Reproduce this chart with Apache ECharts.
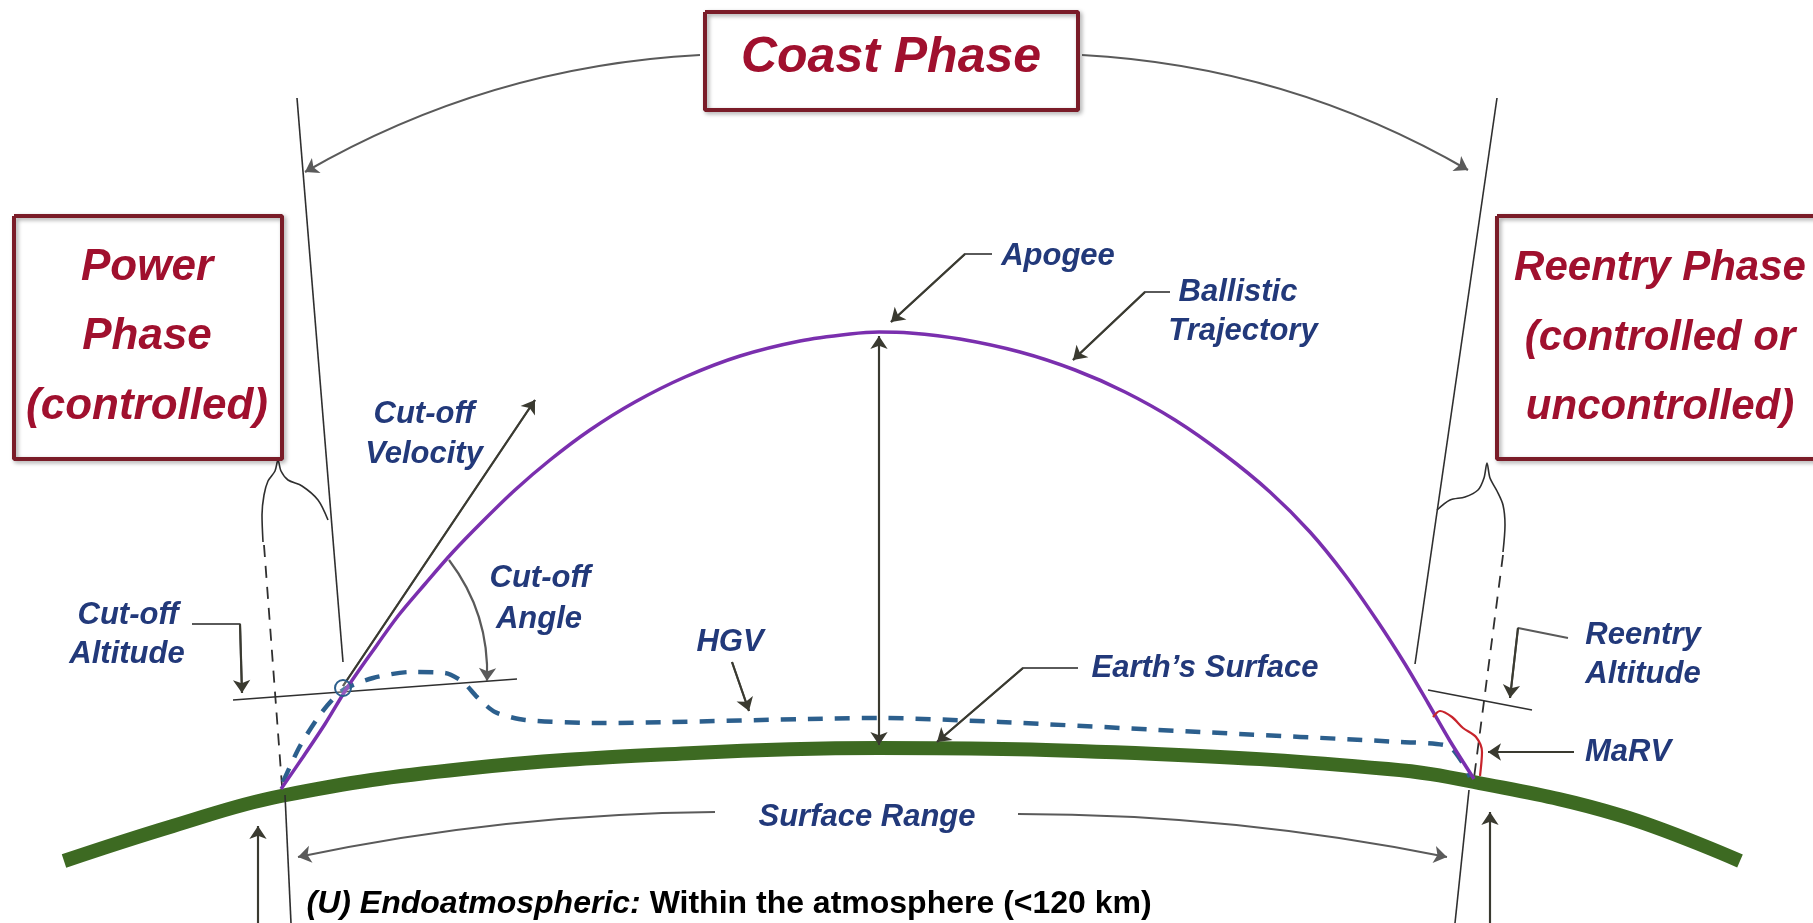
<!DOCTYPE html>
<html>
<head>
<meta charset="utf-8">
<script src="https://cdn.jsdelivr.net/npm/echarts@6/dist/echarts.min.js"></script>
<style>html,body{margin:0;padding:0;background:#fff}#c{width:1813px;height:923px}</style>
</head>
<body>
<div id="c"></div>
<script>
// ---- diagram geometry (in picture units: x right, y down) ----
const ballisticTrajectory = [[281,789],[303,757],[325,724],[347,688],[372,652],[398,616],[425,584],[452,553],[482,522],[515,490],[550,460],[590,430],[635,402],[685,377],[740,356],[800,341],[850,334],[879,332],[910,333],[960,339],[1020,352],[1075,370],[1125,392],[1175,420],[1225,455],[1270,492],[1310,532],[1345,575],[1378,622],[1405,664],[1428,703],[1450,741],[1474,779]];
const earthSurface = [[64,861],[173,826],[281,796],[463,769],[694,753],[879,748],[1156,754],[1388,769],[1474,782],[1619,815],[1740,861]];
const hgvPath = [[283,782],[300,746],[322,712],[343,690],[373,678],[410,672],[445,673],[463,682],[477,697],[495,712],[525,720],[600,723],[879,718],[1000,722],[1200,732],[1400,742],[1448,746],[1462,762],[1470,777]];
const marvPath = [[1433,717],[1440,711],[1452,717],[1463,728],[1476,737],[1482,752],[1480,776]];

const coastBox = [[705,12],[1078,12],[1078,110],[705,110],[705,12]];
const powerBox = [[14,216],[282,216],[282,459],[14,459],[14,216]];
const reentryBox = [[1497,216],[1830,216],[1830,459],[1497,459],[1497,216]];

const thinLines = [
  [[297,98],[343,662]],                 // left phase boundary
  [[1497,98],[1415,664]],               // right phase boundary
  [[233,700],[517,679]],                // cut-off altitude level
  [[1428,690],[1532,710]],              // reentry altitude level
  [[285,795],[291,923]],                // left range boundary (bottom)
  [[1469,790],[1455,923]]               // right range boundary (bottom)
];
const braces = [
  [[328,520],[318,500],[302,486],[288,480],[281,471],[278,460],[275,471],[268,481],[264,495],[262,515],[263,542]],
  [[1437,510],[1450,500],[1465,497],[1478,490],[1484,478],[1487,463],[1490,478],[1497,491],[1503,505],[1505,525],[1503,552]]
];
const dashedGuides = [
  [[264,545],[282,786]],
  [[1503,555],[1474,778]]
];
// curved arrows: start, end, bend
const curvedArrows = [
  [[700,55],[305,172],-0.12],      // coast arc left
  [[1082,55],[1468,170],0.12],     // coast arc right
  [[715,812],[298,857],-0.05],     // surface range left
  [[1018,814],[1447,857],0.05],    // surface range right
  [[449,560],[487,681],0.18]       // cut-off angle
];
const leaderArrows = [
  [[343,686],[535,400]],                    // cut-off velocity
  [[992,254],[965,254],[891,322]],          // apogee
  [[1170,292],[1145,292],[1073,360]],       // ballistic trajectory
  [[192,624],[240,624],[242,693]],          // cut-off altitude
  [[732,662],[749,711]],                    // HGV
  [[1078,668],[1023,668],[937,742]],        // earth's surface
  [[1568,638],[1518,628],[1510,698]],       // reentry altitude
  [[1574,752],[1488,752]],                  // MaRV
  [[258,923],[258,826]],                    // bottom left up arrow
  [[1490,923],[1490,812]],                  // bottom right up arrow
  [[879,600],[879,336]],                    // apogee height (up)
  [[879,600],[879,745]]                     // apogee height (down)
];
const cutoffPoint = [[343,688]];

const phaseTitles = [
  ['Coast Phase', 891, 58, 50],
  ['Power', 147, 268, 44], ['Phase', 147, 337, 44], ['(controlled)', 147, 407, 44],
  ['Reentry Phase', 1660, 268, 42], ['(controlled or', 1660, 338, 42], ['uncontrolled)', 1660, 407, 42]
];
const annotationLabels = [
  ['Apogee', 1058, 256], ['Ballistic', 1238, 292], ['Trajectory', 1243, 331],
  ['Cut-off', 424, 414], ['Velocity', 424, 454],
  ['Cut-off', 540, 578], ['Angle', 539, 619],
  ['Cut-off', 128, 615], ['Altitude', 127, 654],
  ['HGV', 730, 642], ['Earth\u2019s Surface', 1205, 668],
  ['Reentry', 1643, 635], ['Altitude', 1643, 674],
  ['MaRV', 1628, 752], ['Surface Range', 867, 817]
];
const footnote = ['(U) Endoatmospheric:', ' Within the atmosphere (<120 km)', 306, 904];

// ---- build chart ----
const FONT = '"Liberation Sans", Arial, Helvetica, sans-serif';
const series = [];
function poly(points, style, extra) {
  series.push(Object.assign({
    type: 'line', data: points, symbol: 'none', showSymbol: false, silent: true,
    animation: false, lineStyle: style, z: 2
  }, extra || {}));
}
poly(earthSurface, {color: '#3d6a22', width: 14}, {smooth: 0.4, z: 1});
thinLines.forEach(p => poly(p, {color: '#2f2f2f', width: 1.6}));
braces.forEach(p => poly(p, {color: '#2f2f2f', width: 1.6}, {smooth: 0.3}));
dashedGuides.forEach(p => poly(p, {color: '#2f2f2f', width: 1.8, type: [12, 9]}));
leaderArrows.forEach(p => poly(p, {color: '#5a5a5a', width: 2.2}));
poly(ballisticTrajectory, {color: '#7a2fae', width: 3.5}, {smooth: 0.3, z: 4});
poly(hgvPath, {color: '#2c5f8d', width: 4.5, type: [15, 12]}, {smooth: 0.25, z: 3});
poly(marvPath, {color: '#c8242c', width: 2.2}, {smooth: 0.3, z: 4});
const boxStyle = {color: '#7a1c28', width: 4, shadowColor: 'rgba(0,0,0,0.35)', shadowBlur: 4, shadowOffsetX: 2, shadowOffsetY: 2};
poly(coastBox, boxStyle);
poly(powerBox, boxStyle);
poly(reentryBox, boxStyle);

// curved arrows
series.push({
  type: 'lines', coordinateSystem: 'cartesian2d', silent: true, animation: false, z: 5,
  symbol: ['none', 'arrow'], symbolSize: 13,
  lineStyle: {color: '#5a5a5a', width: 2.2, opacity: 1},
  data: curvedArrows.map(a => ({coords: [a[0], a[1]], lineStyle: {curveness: a[2]}}))
});
// arrow heads on straight leaders: last segment of each path
series.push({
  type: 'lines', coordinateSystem: 'cartesian2d', silent: true, animation: false, z: 5,
  symbol: ['none', 'arrow'], symbolSize: 13,
  lineStyle: {color: '#3a3a30', width: 2, opacity: 1},
  data: leaderArrows.map(p => ({coords: [p[p.length - 2], p[p.length - 1]]}))
});
series.push({
  type: 'scatter', data: cutoffPoint, symbol: 'circle', symbolSize: 16, silent: true, animation: false, z: 6,
  itemStyle: {color: 'rgba(255,255,255,0.2)', borderColor: '#2c5f8d', borderWidth: 2, opacity: 1}
});
const hidden = {color: 'rgba(0,0,0,0)', opacity: 1};
series.push({
  type: 'scatter', symbolSize: 1, silent: true, animation: false, z: 10, itemStyle: hidden,
  data: phaseTitles.map(t => ({
    value: [t[1], t[2]],
    label: {show: true, position: 'inside', formatter: t[0], color: '#a0102e',
      fontFamily: FONT, fontStyle: 'italic', fontWeight: 'bold', fontSize: t[3]}
  }))
});
series.push({
  type: 'scatter', symbolSize: 1, silent: true, animation: false, z: 10, itemStyle: hidden,
  data: annotationLabels.map(t => ({
    value: [t[1], t[2]],
    label: {show: true, position: 'inside', formatter: t[0], color: '#22397a',
      fontFamily: FONT, fontStyle: 'italic', fontWeight: 'bold', fontSize: 31}
  }))
});
series.push({
  type: 'scatter', symbolSize: 1, silent: true, animation: false, z: 10, itemStyle: hidden,
  data: [{
    value: [footnote[2], footnote[3]],
    label: {show: true, position: 'right', distance: 0,
      formatter: '{a|' + footnote[0] + '}{b|' + footnote[1] + '}',
      rich: {
        a: {fontFamily: FONT, fontStyle: 'italic', fontWeight: 'bold', fontSize: 32, color: '#000'},
        b: {fontFamily: FONT, fontWeight: 'bold', fontSize: 32, color: '#000'}
      }}
  }]
});

const chart = echarts.init(document.getElementById('c'), null, {renderer: 'canvas'});
chart.setOption({
  backgroundColor: '#ffffff',
  animation: false,
  grid: {left: 0, right: 0, top: 0, bottom: 0},
  xAxis: {type: 'value', min: 0, max: 1813, show: false},
  yAxis: {type: 'value', min: 0, max: 923, inverse: true, show: false},
  series: series
});
</script>
</body>
</html>
